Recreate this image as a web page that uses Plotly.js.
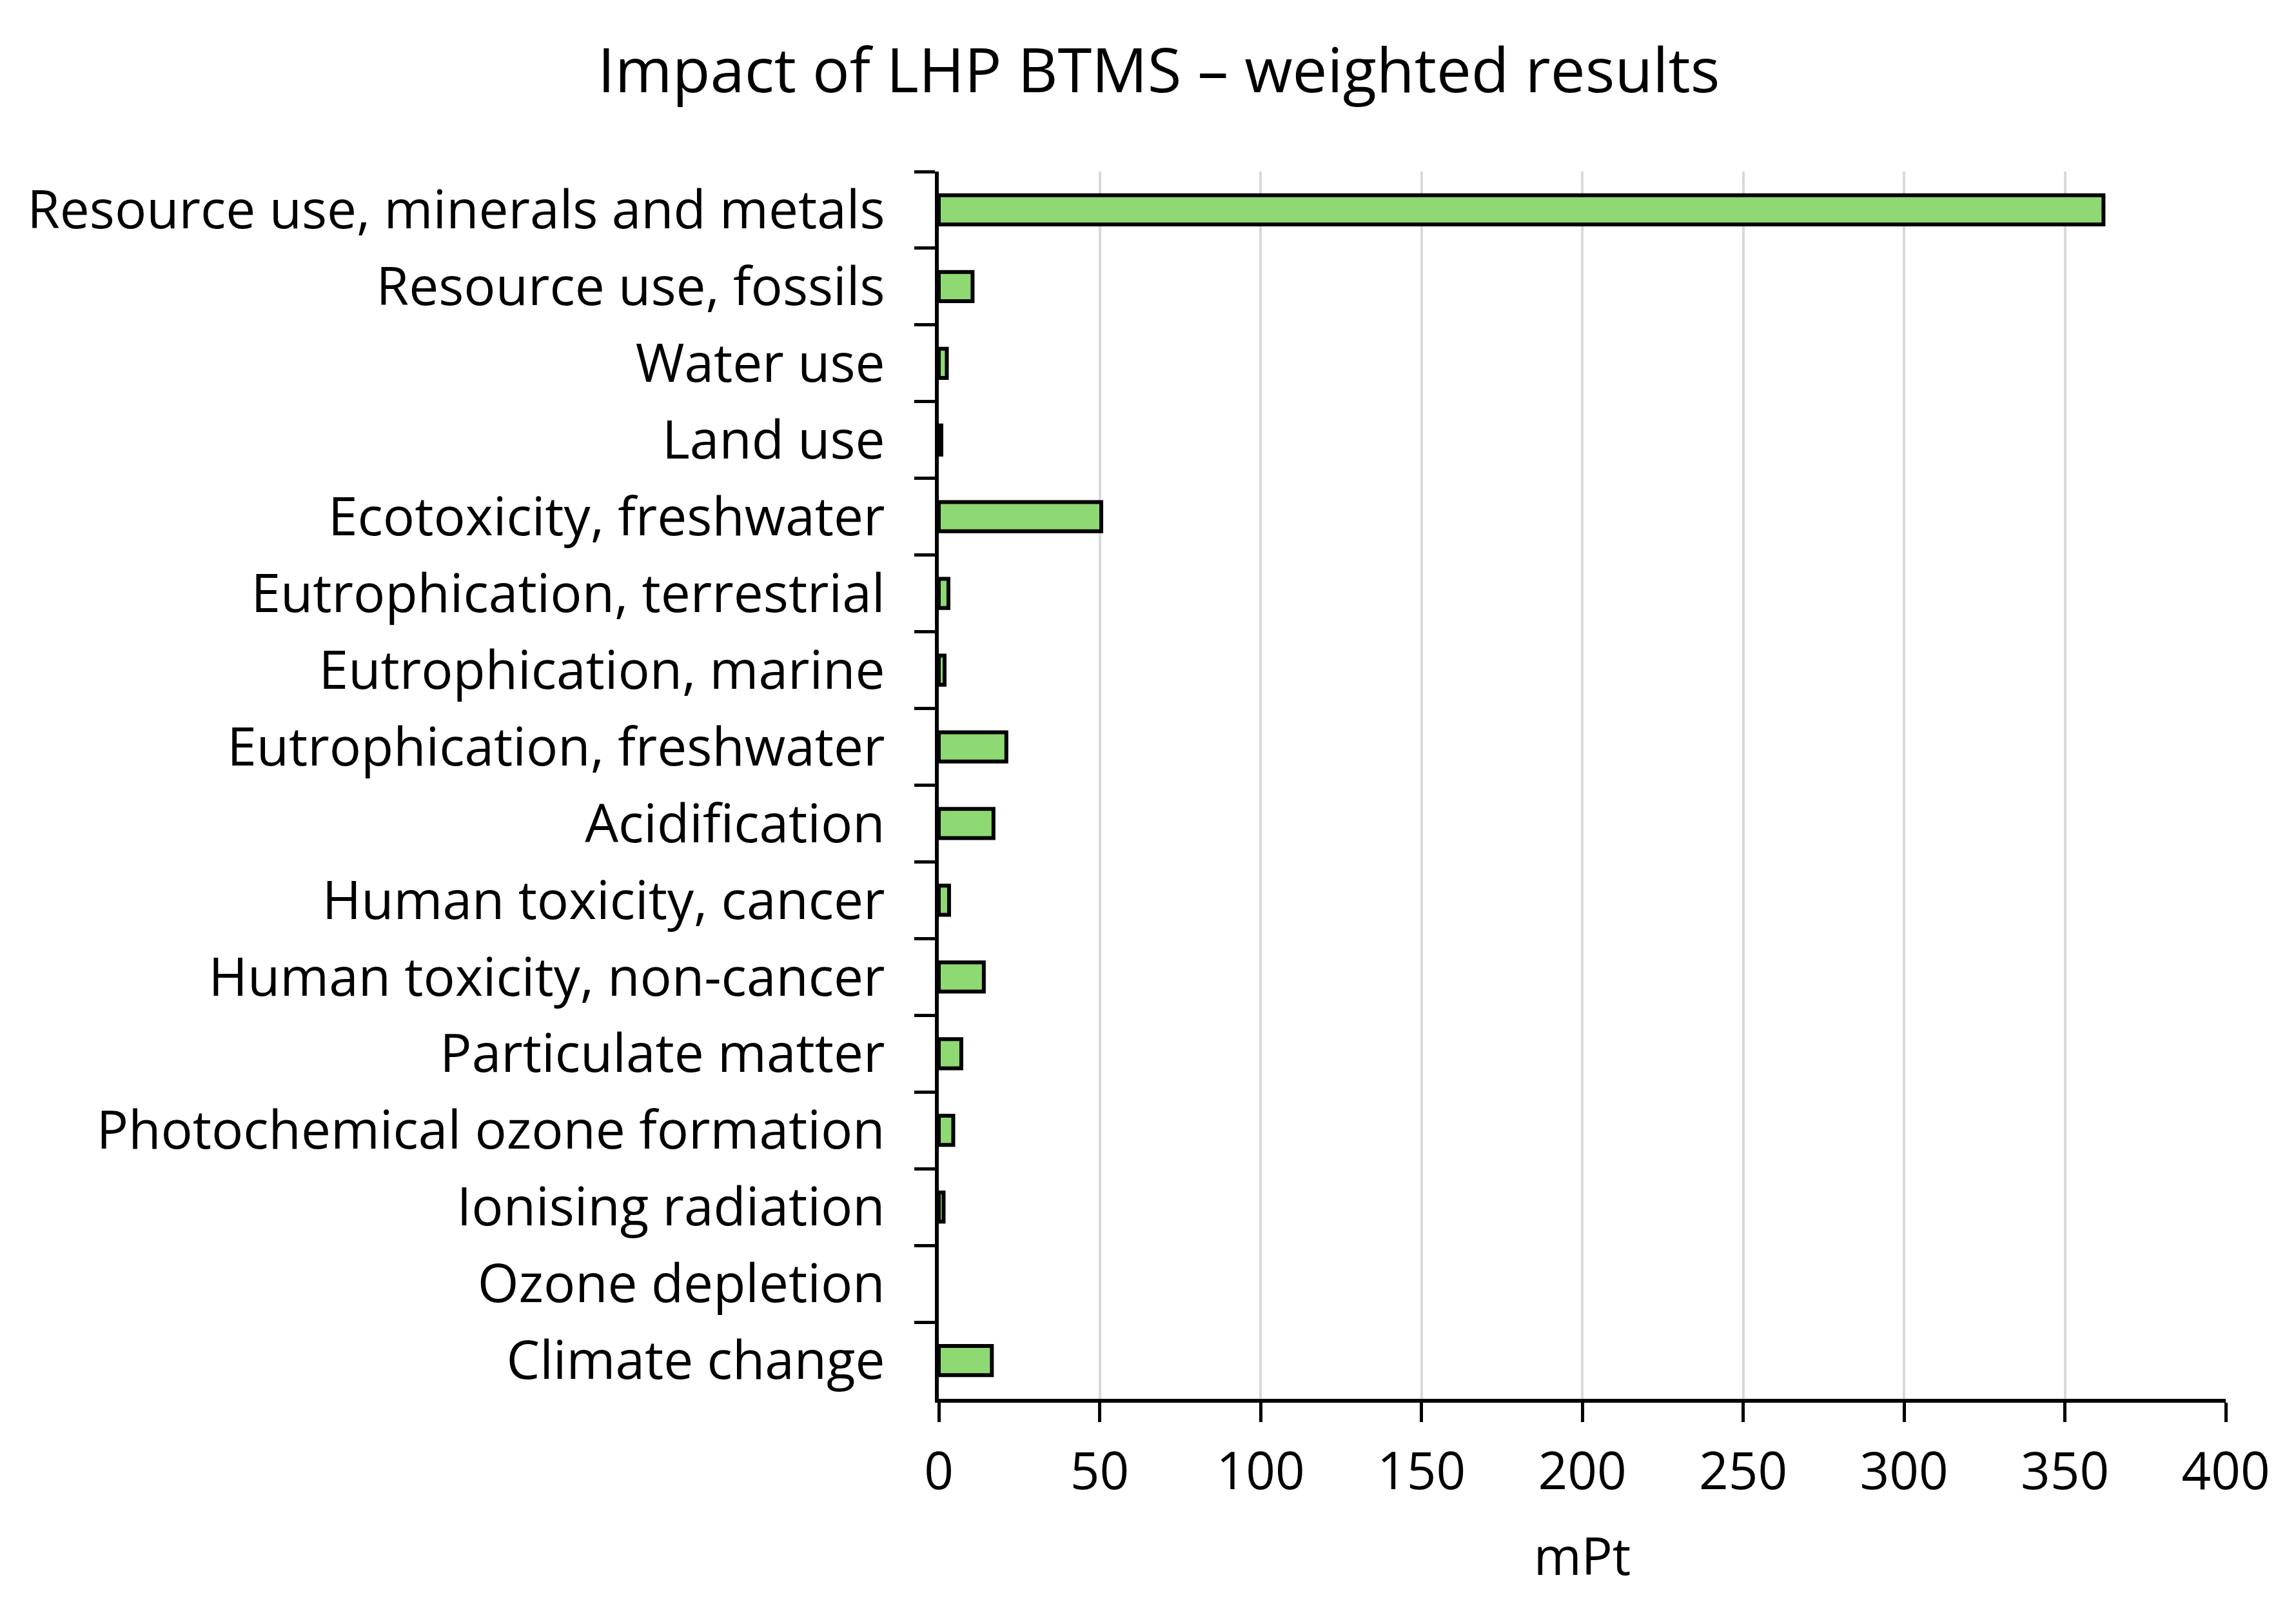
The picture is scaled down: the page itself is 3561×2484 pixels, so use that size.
<!DOCTYPE html>
<html>
<head>
<meta charset="utf-8">
<script src="https://cdn.plot.ly/plotly-3.0.1.min.js"></script>
<style>
html, body { margin: 0; padding: 0; background: #ffffff; }
#chart { width: 3561px; height: 2484px; }
</style>
</head>
<body>
<div id="chart"></div>
<script>
// Impact categories, listed top to bottom as in the chart
const categories = [
  "Resource use, minerals and metals",
  "Resource use, fossils",
  "Water use",
  "Land use",
  "Ecotoxicity, freshwater",
  "Eutrophication, terrestrial",
  "Eutrophication, marine",
  "Eutrophication, freshwater",
  "Acidification",
  "Human toxicity, cancer",
  "Human toxicity, non-cancer",
  "Particulate matter",
  "Photochemical ozone formation",
  "Ionising radiation",
  "Ozone depletion",
  "Climate change"
];

// Weighted results (mPt)
const weightedValues = [
  362, 10.5, 2.5, 0.8, 50.5, 3, 1.8, 21, 17, 3.2, 14, 7, 4.5, 1.5, 0, 16.5
];

const xTickValues = [0, 50, 100, 150, 200, 250, 300, 350, 400];

const FONT = "Open Sans, Noto Sans, Liberation Sans, sans-serif";

const trace = {
  type: "bar",
  orientation: "h",
  x: weightedValues,
  y: categories,
  marker: {
    color: "#8ED973",
    line: { color: "#000000", width: weightedValues.map(v => (v > 0 ? 6 : 0)) }
  },
  hoverinfo: "x+y"
};

const layout = {
  width: 3561,
  height: 2484,
  paper_bgcolor: "#ffffff",
  plot_bgcolor: "#ffffff",
  margin: { l: 1456, r: 109, t: 266, b: 315, pad: 0 },
  bargap: 0.62,
  showlegend: false,
  font: { family: FONT, color: "#000000", size: 80 },
  title: {
    text: "Impact of LHP BTMS – weighted results",
    font: { family: FONT, size: 96, color: "#000000" },
    x: 0.5047,
    xanchor: "center",
    xref: "container",
    y: 0.956,
    yanchor: "middle",
    yref: "container"
  },
  xaxis: {
    range: [0, 400],
    tickvals: xTickValues,
    ticktext: xTickValues.map(String),
    showgrid: true,
    gridcolor: "#D9D9D9",
    gridwidth: 4,
    zeroline: false,
    showline: true,
    linecolor: "#000000",
    linewidth: 6,
    ticks: "outside",
    ticklen: 30,
    tickwidth: 5,
    tickcolor: "#000000",
    ticklabelstandoff: 8,
    tickfont: { family: FONT, size: 80, color: "#000000" },
    title: {
      text: "mPt",
      font: { family: FONT, size: 80, color: "#000000" },
      standoff: 57
    },
    fixedrange: true
  },
  yaxis: {
    type: "category",
    autorange: "reversed",
    showgrid: false,
    zeroline: false,
    showline: true,
    linecolor: "#000000",
    linewidth: 6,
    ticks: "outside",
    tickson: "boundaries",
    ticklen: 32,
    tickwidth: 5,
    tickcolor: "#000000",
    ticklabelstandoff: 61,
    tickfont: { family: FONT, size: 82, color: "#000000" },
    fixedrange: true
  }
};

Plotly.newPlot("chart", [trace], layout, { displayModeBar: false, staticPlot: true });
</script>
</body>
</html>
